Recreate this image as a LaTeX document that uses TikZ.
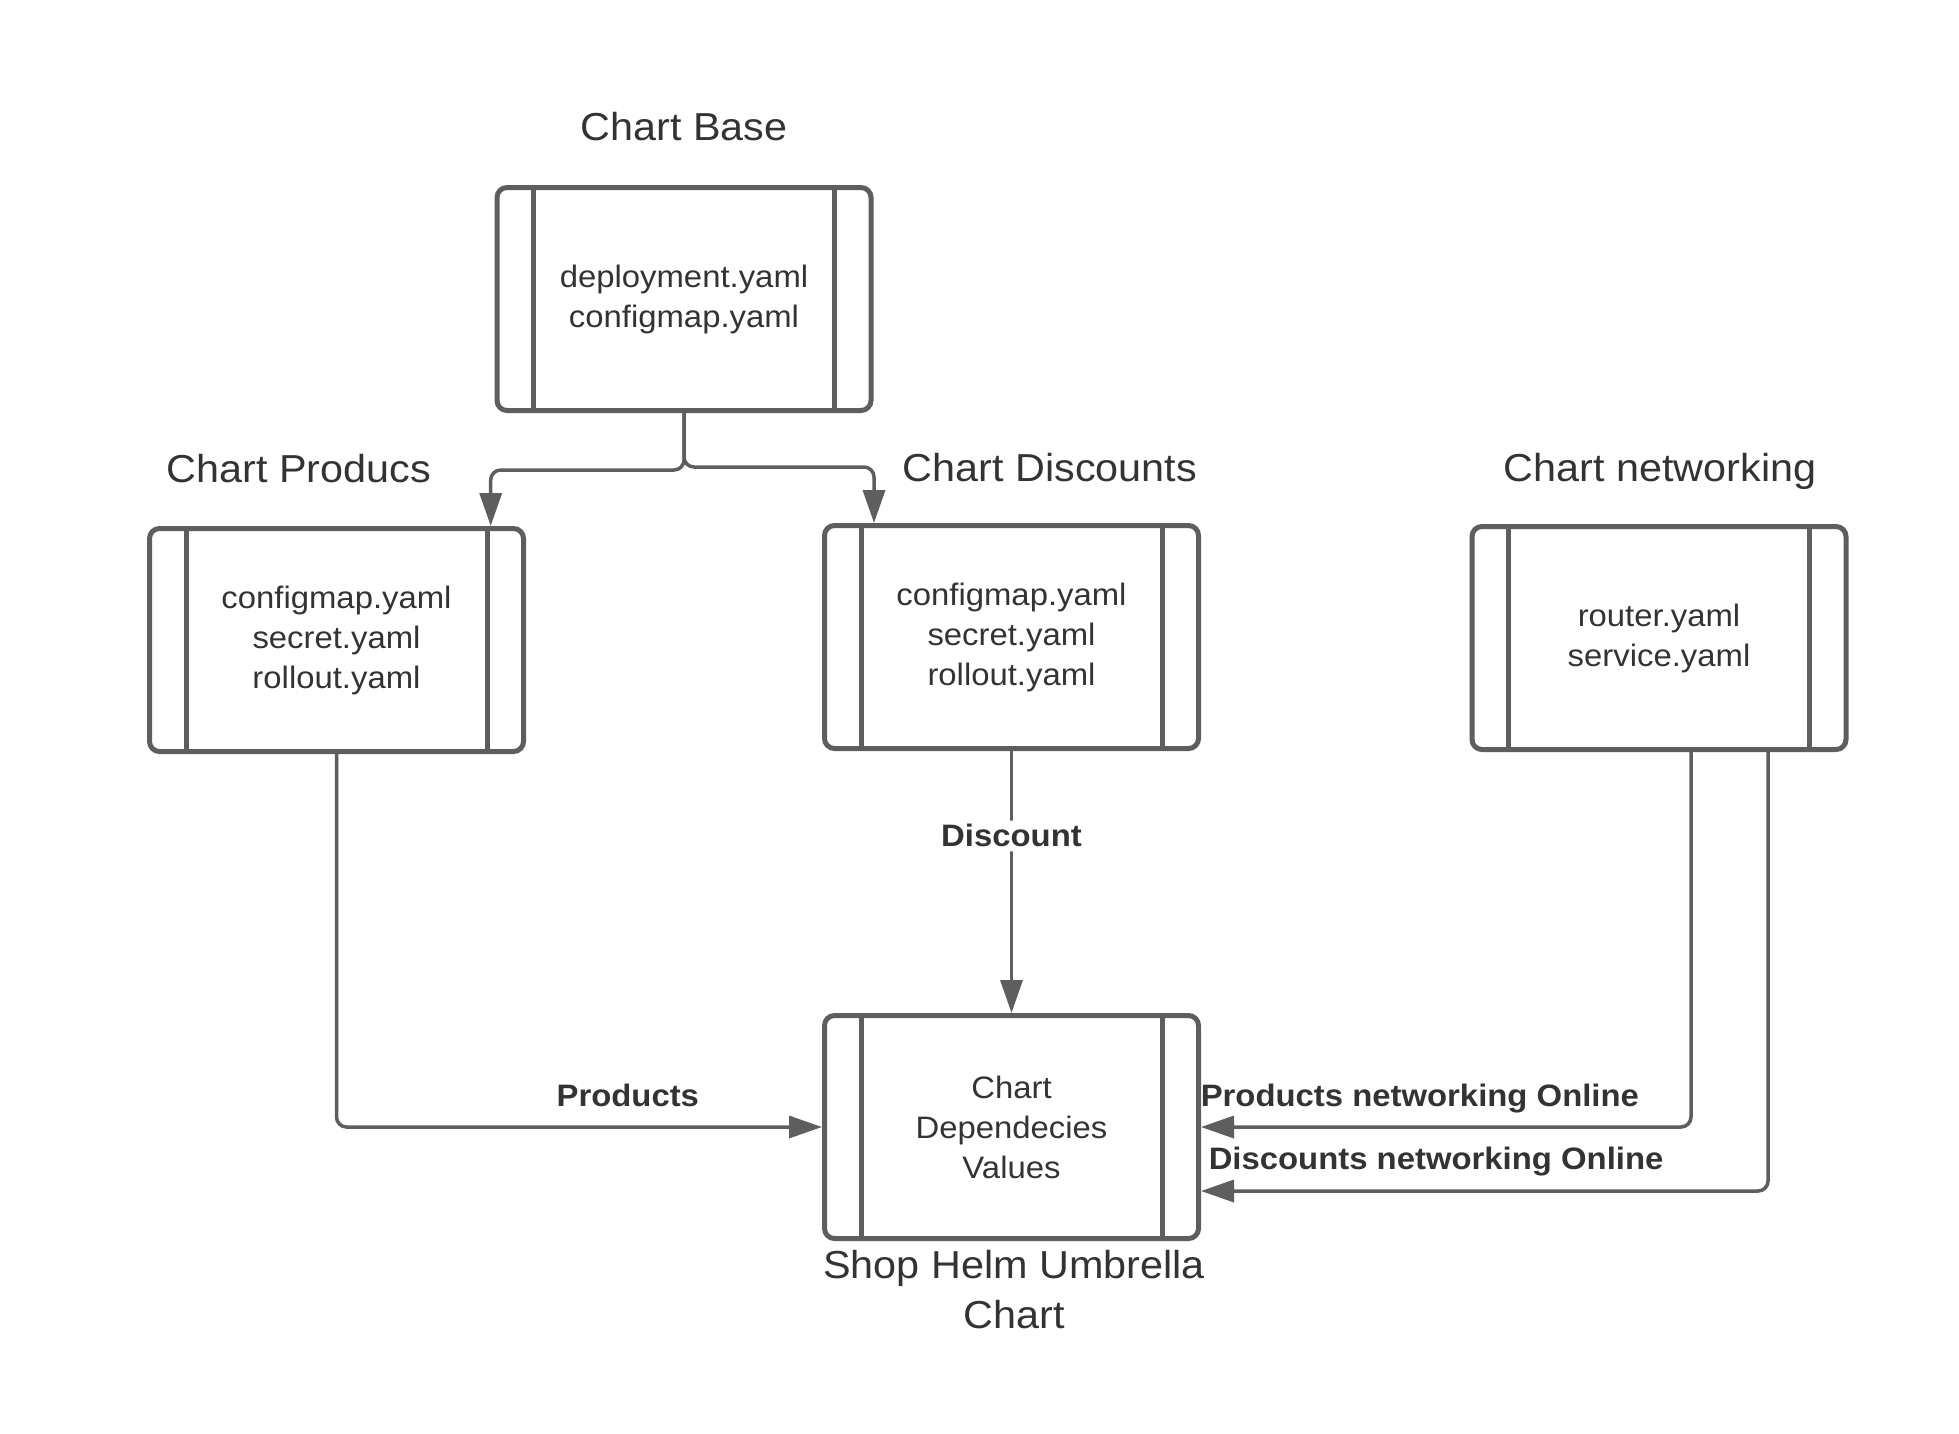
\documentclass[tikz,border=0pt]{standalone}
\usepackage{fontspec}
\setmainfont[FakeStretch=1.06]{Liberation Sans}
\usetikzlibrary{arrows.meta}
\definecolor{linegray}{HTML}{5E5E5E}
\definecolor{textgray}{HTML}{333333}

\tikzset{
  chartbox/.style={draw=linegray, fill=white, line width=5pt, rounded corners=10pt,
    minimum width=374pt, minimum height=223pt, inner sep=0pt, align=center,
    text=textgray, font=\fontsize{31}{40}\selectfont,
    path picture={
      \draw[linegray, line width=5pt]
        ([xshift=36.5pt]path picture bounding box.north west) -- ([xshift=36.5pt]path picture bounding box.south west)
        ([xshift=-36.5pt]path picture bounding box.north east) -- ([xshift=-36.5pt]path picture bounding box.south east);
    }},
  charttitle/.style={text=textgray, font=\fontsize{39}{50}\selectfont, align=center, inner sep=0pt},
  conn/.style={draw=linegray, line width=3.5pt, rounded corners=10pt, -{Triangle[length=33pt,width=22pt]}},
  lbl/.style={text=textgray, font=\fontsize{31}{40}\selectfont\bfseries, inner sep=0pt}
}

\begin{document}
\begin{tikzpicture}[x=1pt,y=-1pt]
\useasboundingbox (0,0) rectangle (1959,1433);

\node[chartbox] (base) at (684,299) {deployment.yaml\\configmap.yaml};
\node[chartbox] (prod) at (336.5,640) {configmap.yaml\\secret.yaml\\rollout.yaml};
\node[chartbox] (disc) at (1011.5,637) {configmap.yaml\\secret.yaml\\rollout.yaml};
\node[chartbox] (net) at (1659,638) {router.yaml\\service.yaml};
\node[chartbox] (umb) at (1011.5,1127) {Chart\\Dependecies\\Values};

\node[charttitle, anchor=base] (basetitle) at (684,140) {Chart Base};
\node[charttitle, anchor=base] (prodtitle) at (299,482) {Chart Producs};
\node[charttitle, anchor=base] (disctitle) at (1050,481) {Chart Discounts};
\node[charttitle, anchor=base] (nettitle) at (1660,481) {Chart networking};
\node[charttitle, anchor=base] (umbtitle) at (1014,1328) {Shop Helm Umbrella\\Chart};

\coordinate (forkL) at (490.7,470);
\coordinate (forkR) at (874,467);
\draw[conn] (base.south) |- (forkL) -- (forkL |- prod.north);
\draw[conn] (base.south) |- (forkR) -- (forkR |- disc.north);

\draw[conn] (disc.south) -- (umb.north)
  node[lbl, pos=0.324, fill=white, inner sep=4pt] (disclbl) {Discount};
\draw[conn] (prod.south) |- (umb.west)
  node[lbl, pos=0.8, anchor=base, yshift=21pt] (prodlbl) {Products};
\draw[conn] ([xshift=32pt]net.south) |- (umb.east)
  node[lbl, pos=1, anchor=base west, xshift=-2pt, yshift=21pt] (netlbla) {Products networking Online};
\draw[conn] ([xshift=109pt]net.south) |- ([yshift=-64pt]umb.east)
  node[lbl, pos=1, anchor=base west, xshift=6pt, yshift=22pt] (netlblb) {Discounts networking Online};
\end{tikzpicture}
\end{document}
